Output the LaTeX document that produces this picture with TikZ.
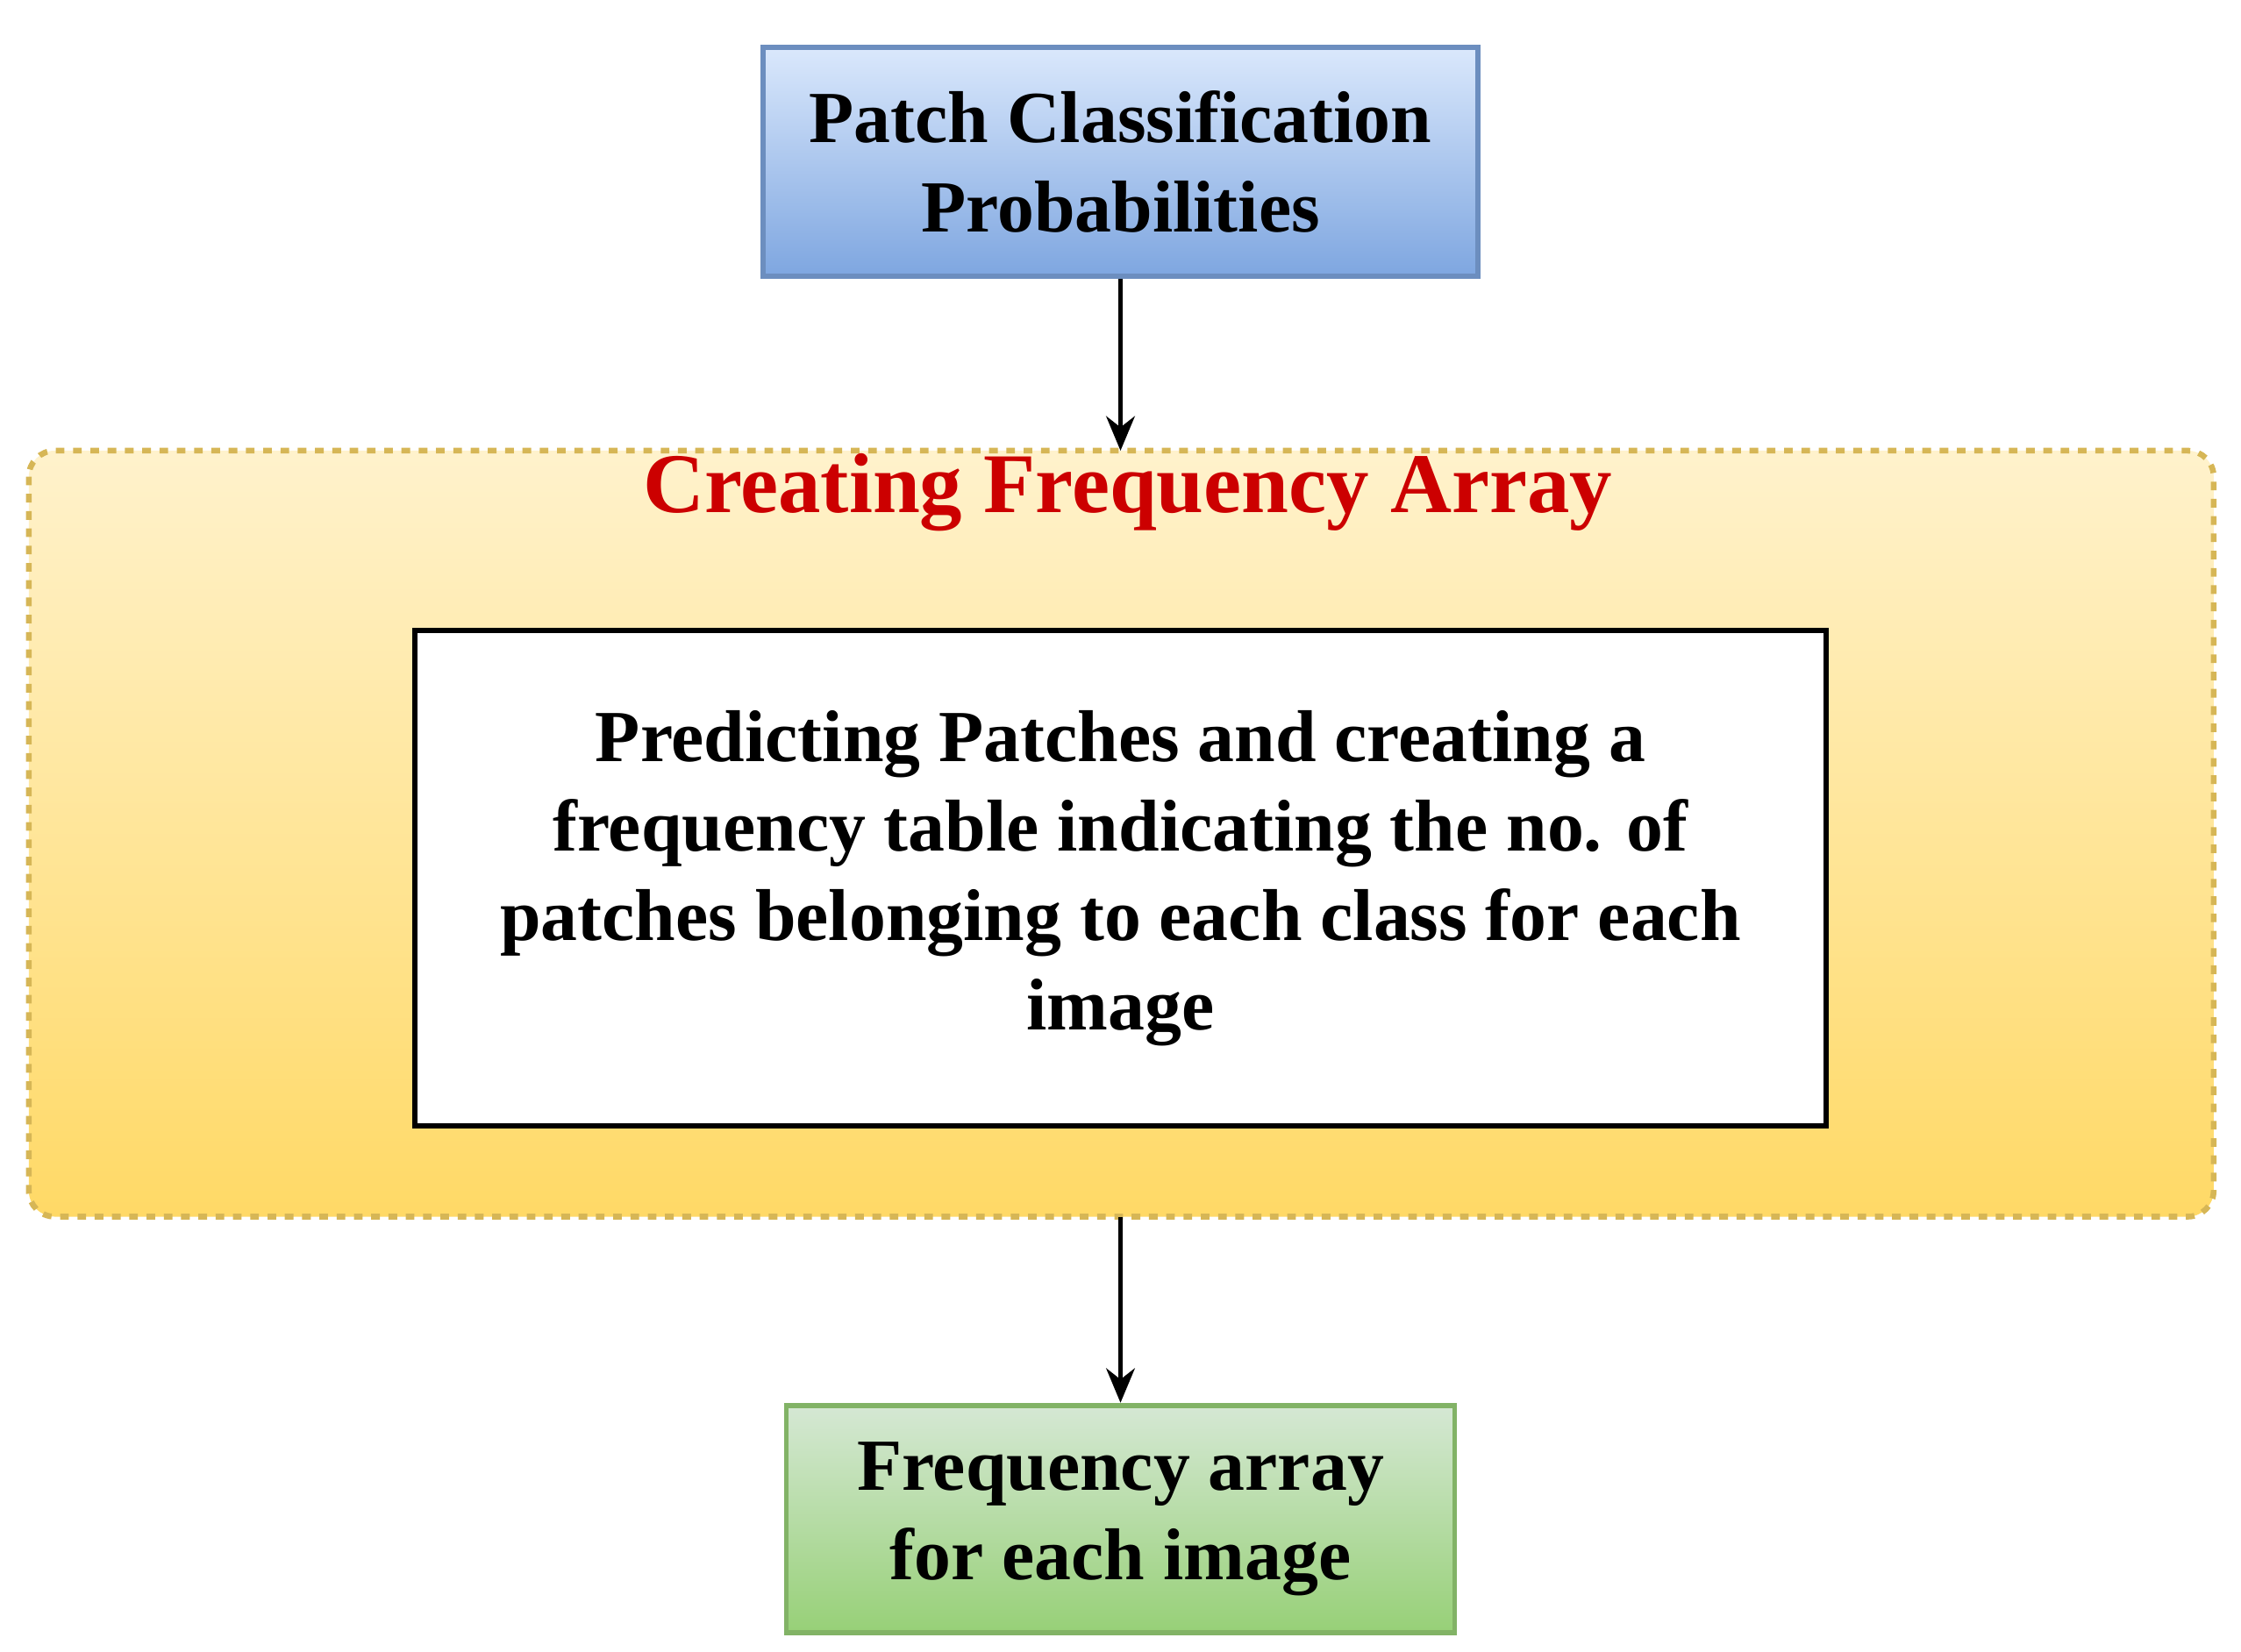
\documentclass[tikz,border=0pt]{standalone}
\usepackage{fontspec}
\setmainfont{Liberation Serif}
\usetikzlibrary{arrows.meta}
\begin{document}
\begin{tikzpicture}[x=1pt,y=-1pt,
  txt/.style={font=\bfseries\fontsize{51}{62}\selectfont,align=center},
  arr/.style={-{Stealth[length=24pt,width=20pt]},line width=2.5pt}]
\useasboundingbox (0,0) rectangle (1556,1147);
\path[top color={rgb,255:red,255;green,242;blue,204}, bottom color={rgb,255:red,255;green,217;blue,102},
  draw={rgb,255:red,214;green,182;blue,86}, line width=4pt, dash pattern=on 6pt off 6pt, rounded corners=18pt]
  (20,313) rectangle (1537,845);
\coordinate (ctop) at (778,313);
\coordinate (cbot) at (778,845);
\node[txt,text={rgb,255:red,204;green,0;blue,0},font=\bfseries\fontsize{59}{66}\selectfont] (title) at (783,342) {Creating Frequency Array};
\node[draw=black,line width=4pt,fill=white,minimum width=980pt,minimum height=344pt,txt] (inner) at (778,610)
 {Predicting Patches and creating a\\frequency table indicating the no. of\\patches belonging to each class for each\\image};
\node[draw={rgb,255:red,108;green,142;blue,191},line width=3.5pt,top color={rgb,255:red,218;green,232;blue,252},bottom color={rgb,255:red,126;green,166;blue,224},minimum width=496pt,minimum height=159pt,txt] (top) at (778,112.5) {Patch Classification\\Probabilities};
\node[draw={rgb,255:red,130;green,179;blue,102},line width=3.5pt,top color={rgb,255:red,213;green,232;blue,212},bottom color={rgb,255:red,151;green,208;blue,119},minimum width=464pt,minimum height=158pt,txt] (bot) at (778,1055) {Frequency array\\for each image};
\draw[arr] (top.south) -- (ctop);
\draw[arr] (cbot) -- (bot.north);
\end{tikzpicture}
\end{document}
